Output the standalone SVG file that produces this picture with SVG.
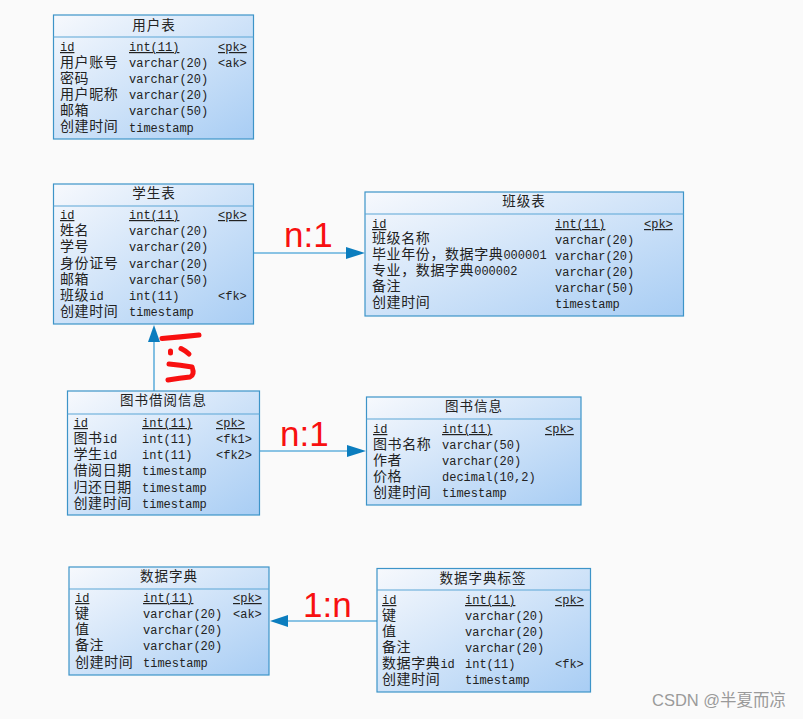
<svg xmlns="http://www.w3.org/2000/svg" width="803" height="719" viewBox="0 0 803 719">
<style>
text{fill:#222;font-family:"Liberation Mono","Noto Sans CJK SC",monospace;font-size:12px}
.z{font-family:"Noto Sans CJK SC","Liberation Sans",sans-serif;font-size:14px;letter-spacing:.6px}
.u{text-decoration:underline}
.h{text-anchor:middle;font-family:"Noto Sans CJK SC",sans-serif;font-size:13.5px;letter-spacing:1px}
.b{fill:url(#g);stroke:#3d94c8;stroke-width:1.2}
.s{stroke:#5ba6d6;stroke-width:1.2;fill:none}
.c{stroke:#63b0dc;stroke-width:1.6;fill:none}
.a{fill:#0b7dbe}
text.r{fill:#f81010;font-family:"Liberation Sans",sans-serif;font-size:35px}
.p{stroke:#f81010;stroke-width:5;fill:none;stroke-linecap:round;stroke-linejoin:round}
text.w{fill:#9a9a9a;font-family:"Liberation Sans","Noto Sans CJK SC",sans-serif;font-size:16.500px}
</style>
<defs>
<linearGradient id="g" x1="0" y1="0" x2="1" y2="1"><stop offset="0" stop-color="#f7f9fd"/><stop offset="1" stop-color="#a8cdf4"/></linearGradient>
</defs>
<rect width="803" height="719" fill="#fafafa"/>
<g id="connectors">
<path class="c" d="M254 253H350"/><path class="a" d="M365 253L346 247V259Z"/>
<path class="c" d="M154 391V340"/><path class="a" d="M154 325L148 342H160Z"/>
<path class="c" d="M260 451H350"/><path class="a" d="M366 451L347 445V457Z"/>
<path class="c" d="M377 621H287"/><path class="a" d="M270 621L288 615V627Z"/>
</g>
<g id="t-user">
<rect class="b" x="53.5" y="15" width="200" height="124"/><path class="s" d="M53.500 37H253.500"/>
<text class="h" x="154" y="30">用户表</text>
<text class="u" x="60" y="51">id</text><text class="u" x="129" y="51">int(11)</text><text class="u" x="218" y="51">&lt;pk&gt;</text>
<text class="z" x="60" y="67">用户账号</text><text x="129" y="67">varchar(20)</text><text x="218" y="67">&lt;ak&gt;</text>
<text class="z" x="60" y="83">密码</text><text x="129" y="83">varchar(20)</text>
<text class="z" x="60" y="99">用户昵称</text><text x="129" y="99">varchar(20)</text>
<text class="z" x="60" y="115">邮箱</text><text x="129" y="115">varchar(50)</text>
<text class="z" x="60" y="131">创建时间</text><text x="129" y="132">timestamp</text>
</g>
<g id="t-student">
<rect class="b" x="53.5" y="184" width="200" height="140"/><path class="s" d="M53.500 206H253.500"/>
<text class="h" x="154" y="198">学生表</text>
<text class="u" x="60" y="219">id</text><text class="u" x="129" y="219">int(11)</text><text class="u" x="218" y="219">&lt;pk&gt;</text>
<text class="z" x="60" y="235">姓名</text><text x="129" y="235">varchar(20)</text>
<text class="z" x="60" y="251">学号</text><text x="129" y="251">varchar(20)</text>
<text class="z" x="60" y="268">身份证号</text><text x="129" y="268">varchar(20)</text>
<text class="z" x="60" y="284">邮箱</text><text x="129" y="284">varchar(50)</text>
<text x="60" y="300"><tspan class="z">班级</tspan>id</text><text x="129" y="300">int(11)</text><text x="218" y="300">&lt;fk&gt;</text>
<text class="z" x="60" y="316">创建时间</text><text x="129" y="316">timestamp</text>
</g>
<g id="t-class">
<rect class="b" x="365" y="192" width="318.500" height="124"/><path class="s" d="M365 214H683.500"/>
<text class="h" x="524" y="206">班级表</text>
<text class="u" x="372" y="228">id</text><text class="u" x="555" y="228">int(11)</text><text class="u" x="644" y="228">&lt;pk&gt;</text>
<text class="z" x="372" y="243">班级名称</text><text x="555" y="244">varchar(20)</text>
<text x="372" y="259"><tspan class="z">毕业年份，数据字典</tspan>000001</text><text x="555" y="260">varchar(20)</text>
<text x="372" y="275"><tspan class="z">专业，数据字典</tspan>000002</text><text x="555" y="276">varchar(20)</text>
<text class="z" x="372" y="291">备注</text><text x="555" y="292">varchar(50)</text>
<text class="z" x="372" y="307">创建时间</text><text x="555" y="308">timestamp</text>
</g>
<g id="t-borrow">
<rect class="b" x="67.500" y="391" width="192" height="124"/><path class="s" d="M67.500 414H259.500"/>
<text class="h" x="163.500" y="405">图书借阅信息</text>
<text class="u" x="73.500" y="427">id</text><text class="u" x="142" y="427">int(11)</text><text class="u" x="216" y="427">&lt;pk&gt;</text>
<text x="73.500" y="443"><tspan class="z">图书</tspan>id</text><text x="142" y="443">int(11)</text><text x="216" y="443">&lt;fk1&gt;</text>
<text x="73.500" y="459"><tspan class="z">学生</tspan>id</text><text x="142" y="459">int(11)</text><text x="216" y="459">&lt;fk2&gt;</text>
<text class="z" x="73.500" y="475">借阅日期</text><text x="142" y="475">timestamp</text>
<text class="z" x="73.500" y="492">归还日期</text><text x="142" y="492">timestamp</text>
<text class="z" x="73.500" y="508">创建时间</text><text x="142" y="508">timestamp</text>
</g>
<g id="t-book">
<rect class="b" x="366.500" y="397" width="214.500" height="108"/><path class="s" d="M366.500 419H581"/>
<text class="h" x="474" y="411">图书信息</text>
<text class="u" x="373" y="433">id</text><text class="u" x="442" y="433">int(11)</text><text class="u" x="545" y="433">&lt;pk&gt;</text>
<text class="z" x="373" y="449">图书名称</text><text x="442" y="449">varchar(50)</text>
<text class="z" x="373" y="465">作者</text><text x="442" y="465">varchar(20)</text>
<text class="z" x="373" y="481">价格</text><text x="442" y="481">decimal(10,2)</text>
<text class="z" x="373" y="497">创建时间</text><text x="442" y="497">timestamp</text>
</g>
<g id="t-dict">
<rect class="b" x="69" y="567" width="200" height="108"/><path class="s" d="M69 589H269"/>
<text class="h" x="169" y="581">数据字典</text>
<text class="u" x="75" y="602">id</text><text class="u" x="143" y="602">int(11)</text><text class="u" x="233" y="602">&lt;pk&gt;</text>
<text class="z" x="75" y="618">键</text><text x="143" y="618">varchar(20)</text><text x="233" y="618">&lt;ak&gt;</text>
<text class="z" x="75" y="634">值</text><text x="143" y="634">varchar(20)</text>
<text class="z" x="75" y="650">备注</text><text x="143" y="650">varchar(20)</text>
<text class="z" x="75" y="667">创建时间</text><text x="143" y="667">timestamp</text>
</g>
<g id="t-dict-tag">
<rect class="b" x="377" y="568.500" width="213.500" height="123.500"/><path class="s" d="M377 590H590.500"/>
<text class="h" x="483" y="583">数据字典标签</text>
<text class="u" x="382" y="604">id</text><text class="u" x="465" y="604">int(11)</text><text class="u" x="555" y="604">&lt;pk&gt;</text>
<text class="z" x="382" y="620">键</text><text x="465" y="620">varchar(20)</text>
<text class="z" x="382" y="636">值</text><text x="465" y="636">varchar(20)</text>
<text class="z" x="382" y="652">备注</text><text x="465" y="652">varchar(20)</text>
<text x="382" y="668"><tspan class="z">数据字典</tspan>id</text><text x="465" y="668">int(11)</text><text x="555" y="668">&lt;fk&gt;</text>
<text class="z" x="382" y="684">创建时间</text><text x="465" y="684">timestamp</text>
</g>
<g id="annotations">
<text class="r" x="284" y="247">n:1</text>
<text class="r" x="280" y="446">n:1</text>
<text class="r" x="303" y="617">1:n</text>
<path class="p" d="M162 338.500Q180 337 199 335"/>
<path class="p" d="M170.500 351V353M181 348.500Q186 351 189 354"/>
<path class="p" d="M169 364Q180 365 192 367Q195 375 190 377Q180 378 168 380"/>
<text class="w" x="652" y="706">CSDN @半夏而凉</text>
</g>
</svg>
